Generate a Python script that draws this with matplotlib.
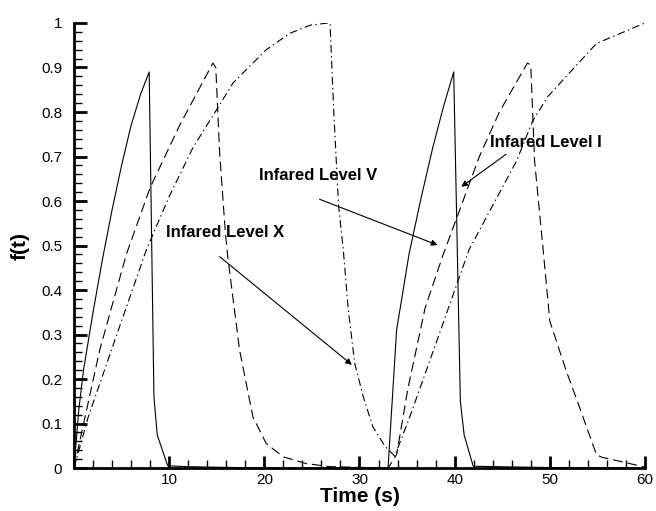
import matplotlib
matplotlib.use("Agg")
import matplotlib.pyplot as plt
from matplotlib.ticker import MultipleLocator

plt.rcParams['font.family'] = ['Liberation Sans', 'DejaVu Sans']

# Infared Level I (solid)
t_lvl1 = [0, 0.5, 1, 2, 3, 4, 5, 6, 7, 7.9, 8.4, 8.75, 9.85, 12, 20,
          33.0, 33.9, 35.2, 36.4, 37.7, 38.8, 39.9, 40.6, 41.0, 41.95, 50, 60]
f_lvl1 = [0, 0.13, 0.22, 0.35, 0.47, 0.58, 0.68, 0.77, 0.84, 0.89, 0.16, 0.074, 0.005, 0.003, 0.0,
          0.0, 0.31, 0.48, 0.60, 0.72, 0.81, 0.89, 0.15, 0.074, 0.004, 0.001, 0.0]

# Infared Level V (dashed)
t_lvl5 = [0, 0.5, 2.7, 5.5, 8, 11.1, 14.6, 14.9, 15.3, 15.9, 16.2, 17.4, 18.8, 20.2, 22.0, 24.4, 26.9, 33.0,
          33.9, 35.1, 36.9, 38.8, 40.7, 42.6, 44.7, 47.65, 48.0, 48.4, 49.3, 50.0, 51.7, 53.1, 54.9, 55.5, 58.0, 59.8, 60]
f_lvl5 = [0, 0.05, 0.265, 0.48, 0.63, 0.77, 0.91, 0.90, 0.71, 0.53, 0.467, 0.265, 0.115, 0.055, 0.025, 0.01, 0.003, 0.0,
          0.03, 0.18, 0.36, 0.48, 0.59, 0.70, 0.80, 0.91, 0.905, 0.69, 0.49, 0.33, 0.22, 0.138, 0.03, 0.024, 0.012, 0.003, 0.002]

# Infared Level X (dash-dot)
t_lvl10 = [0, 1.5, 4.5, 7.6, 10.0, 12.5, 15.3, 16.7, 20.2, 22.7, 24.8, 26.7, 26.9, 27.3, 27.8, 28.3, 28.8, 29.5,
           30.4, 31.4, 32.7, 33.7, 35.2, 36.7, 38.2, 41.5, 46.5, 48.2, 49.8, 54.9, 60]
f_lvl10 = [0, 0.115, 0.30, 0.49, 0.61, 0.72, 0.816, 0.865, 0.94, 0.977, 0.995, 1.0, 1.0, 0.80, 0.59, 0.49, 0.36, 0.235,
           0.16, 0.093, 0.048, 0.027, 0.11, 0.2, 0.29, 0.49, 0.69, 0.78, 0.835, 0.954, 1.0]

y_ticks = [0, 0.1, 0.2, 0.3, 0.4, 0.5, 0.6, 0.7, 0.8, 0.9, 1]
y_labels = ['0', '0.1', '0.2', '0.3', '0.4', '0.5', '0.6', '0.7', '0.8', '0.9', '1']
x_ticks = [0, 10, 20, 30, 40, 50, 60]
x_labels = ['', '10', '20', '30', '40', '50', '60']

fig = plt.figure(figsize=(6.56, 5.11), dpi=100)
ax = fig.add_axes([0.1128, 0.0841, 0.8704, 0.8709])

# dash patterns are in units of line width (0.8)
ax.plot(t_lvl1, f_lvl1, color='black', lw=0.8, ls='-')
ax.plot(t_lvl5, f_lvl5, color='black', lw=0.8, ls=(0, (8.75, 4.5)))
ax.plot(t_lvl10, f_lvl10, color='black', lw=0.8, ls=(0, (6.9, 3.1, 1.25, 3.1)))

ax.set_xlim(0, 60)
ax.set_ylim(0, 1)

ax.set_yticks(y_ticks, y_labels)
ax.set_xticks(x_ticks, x_labels)
ax.xaxis.set_minor_locator(MultipleLocator(2))
ax.yaxis.set_minor_locator(MultipleLocator(0.02))

ax.tick_params(axis='both', which='major', direction='in', length=9, width=2.0,
               color='black', labelsize=11)
ax.tick_params(axis='both', which='minor', direction='in', length=5.5, width=1.0, color='black')
ax.tick_params(axis='y', which='major', pad=8.5)
ax.tick_params(axis='x', which='major', pad=3.5)

for s in ['top', 'right']:
    ax.spines[s].set_visible(False)
for s in ['left', 'bottom']:
    ax.spines[s].set_linewidth(2.0)

ax.set_xlabel('Time (s)', fontsize=15, fontweight='bold', labelpad=0)
ax.set_ylabel('f(t)', fontsize=15, fontweight='bold')
ax.yaxis.set_label_coords(-0.077, 0.5)

# labels with arrows
arrow = dict(arrowstyle='-|>', color='black', lw=0.8, mutation_scale=9, shrinkA=0, shrinkB=0)
ax.text(15.9, 0.518, 'Infared Level X', ha='center', va='baseline', fontsize=12, fontweight='bold')
ax.annotate('', xy=(29.2, 0.232), xytext=(15.3, 0.475), arrowprops=arrow)
ax.text(25.7, 0.647, 'Infared Level V', ha='center', va='baseline', fontsize=12, fontweight='bold')
ax.annotate('', xy=(38.2, 0.501), xytext=(25.8, 0.604), arrowprops=arrow)
ax.text(49.6, 0.722, 'Infared Level I', ha='center', va='baseline', fontsize=12, fontweight='bold')
ax.annotate('', xy=(40.7, 0.632), xytext=(45.4, 0.705), arrowprops=arrow)

fig.savefig('out.png', dpi=100)
